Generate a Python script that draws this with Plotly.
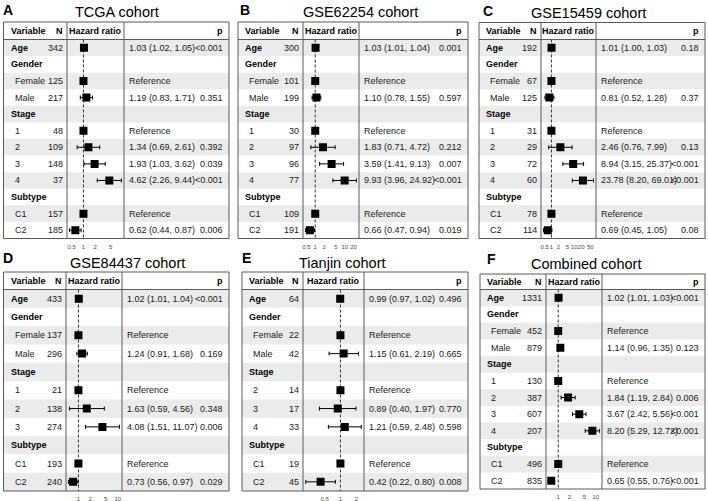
import math
import plotly.graph_objects as go

W, H = 708, 501
GROUPS = {"Age", "Gender", "Stage", "Subtype"}

# ---------------- data ----------------
TITLES = ["TCGA cohort", "GSE62254 cohort", "GSE15459 cohort",
          "GSE84437 cohort", "Tianjin cohort", "Combined cohort"]
LETTERS = ["A", "B", "C", "D", "E", "F"]

TCGA_VARS = ["Age", "Gender", "Female", "Male", "Stage", "1", "2", "3", "4", "Subtype", "C1", "C2"]
TCGA_N = [342, None, 125, 217, None, 48, 109, 148, 37, None, 157, 185]
TCGA_HR = [1.03, None, 1, 1.19, None, 1, 1.34, 1.93, 4.62, None, 1, 0.62]
TCGA_LO = [1.02, None, None, 0.83, None, None, 0.69, 1.03, 2.26, None, None, 0.44]
TCGA_HI = [1.05, None, None, 1.71, None, None, 2.61, 3.62, 9.44, None, None, 0.87]
TCGA_P = ["<0.001", "", "", "0.351", "", "", "0.392", "0.039", "<0.001", "", "", "0.006"]
TCGA_TICKS = [0.5, 1, 2, 5]

G62_VARS = ["Age", "Gender", "Female", "Male", "Stage", "1", "2", "3", "4", "Subtype", "C1", "C2"]
G62_N = [300, None, 101, 199, None, 30, 97, 96, 77, None, 109, 191]
G62_HR = [1.03, None, 1, 1.10, None, 1, 1.83, 3.59, 9.93, None, 1, 0.66]
G62_LO = [1.01, None, None, 0.78, None, None, 0.71, 1.41, 3.96, None, None, 0.47]
G62_HI = [1.04, None, None, 1.55, None, None, 4.72, 9.13, 24.92, None, None, 0.94]
G62_P = ["0.001", "", "", "0.597", "", "", "0.212", "0.007", "<0.001", "", "", "0.019"]
G62_TICKS = [0.5, 1, 2, 5, 10, 20]

G15_VARS = ["Age", "Gender", "Female", "Male", "Stage", "1", "2", "3", "4", "Subtype", "C1", "C2"]
G15_N = [192, None, 67, 125, None, 31, 29, 72, 60, None, 78, 114]
G15_HR = [1.01, None, 1, 0.81, None, 1, 2.46, 8.94, 23.78, None, 1, 0.69]
G15_LO = [1.00, None, None, 0.52, None, None, 0.76, 3.15, 8.20, None, None, 0.45]
G15_HI = [1.03, None, None, 1.28, None, None, 7.99, 25.37, 69.01, None, None, 1.05]
G15_P = ["0.18", "", "", "0.37", "", "", "0.13", "<0.001", "<0.001", "", "", "0.08"]
G15_TICKS = [0.5, 1, 2, 5, 10, 20, 50]

G84_VARS = ["Age", "Gender", "Female", "Male", "Stage", "1", "2", "3", "Subtype", "C1", "C2"]
G84_N = [433, None, 137, 296, None, 21, 138, 274, None, 193, 240]
G84_HR = [1.02, None, 1, 1.24, None, 1, 1.63, 4.08, None, 1, 0.73]
G84_LO = [1.01, None, None, 0.91, None, None, 0.59, 1.51, None, None, 0.56]
G84_HI = [1.04, None, None, 1.68, None, None, 4.56, 11.07, None, None, 0.97]
G84_P = ["<0.001", "", "", "0.169", "", "", "0.348", "0.006", "", "", "0.029"]
G84_TICKS = [1, 2, 5, 10]

TJ_VARS = ["Age", "Gender", "Female", "Male", "Stage", "2", "3", "4", "Subtype", "C1", "C2"]
TJ_N = [64, None, 22, 42, None, 14, 17, 33, None, 19, 45]
TJ_HR = [0.99, None, 1, 1.15, None, 1, 0.89, 1.21, None, 1, 0.42]
TJ_LO = [0.97, None, None, 0.61, None, None, 0.40, 0.59, None, None, 0.22]
TJ_HI = [1.02, None, None, 2.19, None, None, 1.97, 2.48, None, None, 0.80]
TJ_P = ["0.496", "", "", "0.665", "", "", "0.770", "0.598", "", "", "0.008"]
TJ_TICKS = [0.5, 1, 2]

CB_VARS = ["Age", "Gender", "Female", "Male", "Stage", "1", "2", "3", "4", "Subtype", "C1", "C2"]
CB_N = [1331, None, 452, 879, None, 130, 387, 607, 207, None, 496, 835]
CB_HR = [1.02, None, 1, 1.14, None, 1, 1.84, 3.67, 8.20, None, 1, 0.65]
CB_LO = [1.01, None, None, 0.96, None, None, 1.19, 2.42, 5.29, None, None, 0.55]
CB_HI = [1.03, None, None, 1.35, None, None, 2.84, 5.56, 12.72, None, None, 0.76]
CB_P = ["<0.001", "", "", "0.123", "", "", "0.006", "<0.001", "<0.001", "", "", "<0.001"]
CB_TICKS = [1, 2, 5, 10]

DATA = [
    (TCGA_VARS, TCGA_N, TCGA_HR, TCGA_LO, TCGA_HI, TCGA_P, TCGA_TICKS),
    (G62_VARS, G62_N, G62_HR, G62_LO, G62_HI, G62_P, G62_TICKS),
    (G15_VARS, G15_N, G15_HR, G15_LO, G15_HI, G15_P, G15_TICKS),
    (G84_VARS, G84_N, G84_HR, G84_LO, G84_HI, G84_P, G84_TICKS),
    (TJ_VARS, TJ_N, TJ_HR, TJ_LO, TJ_HI, TJ_P, TJ_TICKS),
    (CB_VARS, CB_N, CB_HR, CB_LO, CB_HI, CB_P, CB_TICKS),
]

# ---------------- layout (pixels) ----------------
GEOM = [
    dict(L=3.5, c1=67, c2=124, R=229, top=22, hb=39.5, bot=238.5, tx=117, ty=12, lx=8, ly=10),
    dict(L=238, c1=303, c2=359, R=468, top=22, hb=39.5, bot=238.5, tx=360, ty=12, lx=245, ly=10),
    dict(L=479, c1=541, c2=596, R=705, top=22.5, hb=39.5, bot=238.5, tx=588, ty=13, lx=488, ly=11),
    dict(L=3.5, c1=66, c2=122, R=229, top=272, hb=289.5, bot=491, tx=127, ty=263, lx=8, ly=258),
    dict(L=242, c1=303, c2=364, R=468, top=272, hb=289.5, bot=491, tx=342, ty=263, lx=246, ly=258),
    dict(L=480, c1=546, c2=602, R=705, top=274, hb=289.5, bot=489, tx=586, ty=264, lx=491, ly=259),
]

FONT = "Liberation Sans, Arial, Helvetica, sans-serif"
TXT = "#1a1a1a"
LINE = "#5a5a5a"
STRIPE = "#ebebeb"
FS = 9


def px(x):
    return x / W


def py(y):
    return 1 - y / H


fig = go.Figure()
shapes = []
annotations = []
layout_axes = {}

for k, ((vars_, ns, hrs, los, his, ps, ticks), g) in enumerate(zip(DATA, GEOM), start=1):
    n = len(vars_)
    xa = "x" if k == 1 else f"x{k}"
    ya = "y" if k == 1 else f"y{k}"
    xname = "xaxis" if k == 1 else f"xaxis{k}"
    yname = "yaxis" if k == 1 else f"yaxis{k}"

    vals = [v for v in los + his + hrs if v is not None]
    lmin, lmax = math.log10(min(vals)), math.log10(max(vals))
    span = lmax - lmin
    xr = [lmin - 0.05 * span, lmax + 0.05 * span]

    layout_axes[xname] = dict(
        type="log", domain=[px(g["c1"]), px(g["c2"])], range=xr, anchor=ya,
        showgrid=False, zeroline=False, showline=False, ticks="", tickangle=0,
        tickvals=ticks, ticktext=[("%g" % t) for t in ticks],
        tickfont=dict(size=6, color="#4d4d4d", family=FONT), ticklabelstandoff=3,
        fixedrange=True,
    )
    layout_axes[yname] = dict(
        domain=[py(g["bot"]), py(g["hb"])], range=[n - 0.5, -0.5], anchor=xa,
        visible=False, fixedrange=True,
    )

    for i in range(0, n, 2):
        shapes.append(dict(type="rect", xref="paper", yref=ya, x0=px(g["L"]), x1=px(g["R"]),
                           y0=i - 0.5, y1=i + 0.5, fillcolor=STRIPE, line=dict(width=0),
                           layer="below"))
    shapes.append(dict(type="rect", xref="paper", yref="paper", x0=px(g["L"]), x1=px(g["R"]),
                       y0=py(g["bot"]), y1=py(g["top"]), line=dict(color=LINE, width=1)))
    for c in ("c1", "c2"):
        shapes.append(dict(type="line", xref="paper", yref="paper", x0=px(g[c]), x1=px(g[c]),
                           y0=py(g["bot"]), y1=py(g["top"]), line=dict(color=LINE, width=1)))
    shapes.append(dict(type="line", xref="paper", yref="paper", x0=px(g["L"]), x1=px(g["R"]),
                       y0=py(g["hb"]), y1=py(g["hb"]), line=dict(color=LINE, width=1)))

    fig.add_trace(go.Scatter(x=[1, 1], y=[-0.5, n - 0.5], mode="lines", xaxis=xa, yaxis=ya,
                             line=dict(color="#333333", width=1, dash="3px,2px"),
                             hoverinfo="skip", showlegend=False))

    xs, ys, ep, em = [], [], [], []
    for i, (hr, lo, hi) in enumerate(zip(hrs, los, his)):
        if hr is None:
            continue
        xs.append(hr)
        ys.append(i)
        ep.append((hi - hr) if hi is not None else 0)
        em.append((hr - lo) if lo is not None else 0)
    fig.add_trace(go.Scatter(
        x=xs, y=ys, mode="markers", xaxis=xa, yaxis=ya, showlegend=False,
        marker=dict(symbol="square", size=8, color="black", line=dict(width=0)),
        error_x=dict(type="data", symmetric=False, array=ep, arrayminus=em,
                     thickness=1, width=2, color="black"),
    ))

    hy = py((g["top"] + g["hb"]) / 2)
    hfont = dict(family=FONT, size=FS, color="black")
    annotations += [
        dict(x=px(g["L"] + 5), y=hy, xref="paper", yref="paper", text="<b>Variable</b>",
             xanchor="left", yanchor="middle", showarrow=False, font=hfont),
        dict(x=px(g["c1"] - 2.5), y=hy, xref="paper", yref="paper", text="<b>N</b>",
             xanchor="right", yanchor="middle", showarrow=False, font=hfont),
        dict(x=px((g["c1"] + g["c2"]) / 2), y=hy, xref="paper", yref="paper",
             text="<b>Hazard ratio</b>", xanchor="center", yanchor="middle",
             showarrow=False, font=hfont),
        dict(x=px(g["R"] - 4), y=hy, xref="paper", yref="paper", text="<b>p</b>",
             xanchor="right", yanchor="middle", showarrow=False, font=hfont),
    ]
    annotations.append(dict(x=px(g["tx"]), y=py(g["ty"]), xref="paper", yref="paper",
                            text=TITLES[k - 1], xanchor="center", yanchor="middle",
                            showarrow=False, font=dict(family=FONT, size=14.5, color="black")))
    annotations.append(dict(x=px(g["lx"]), y=py(g["ly"]), xref="paper", yref="paper",
                            text="<b>%s</b>" % LETTERS[k - 1], xanchor="center", yanchor="middle",
                            showarrow=False, font=dict(family=FONT, size=14, color="black")))

    bfont = dict(family=FONT, size=FS, color=TXT)
    for i, (v, nn, hr, lo, hi, p) in enumerate(zip(vars_, ns, hrs, los, his, ps)):
        grp = v in GROUPS
        annotations.append(dict(
            x=px(g["L"] + (5 if grp else 9)), y=i, xref="paper", yref=ya,
            text=("<b>%s</b>" % v) if grp else v, xanchor="left", yanchor="middle",
            showarrow=False, font=dict(family=FONT, size=FS, color="black" if grp else TXT)))
        if nn is not None:
            annotations.append(dict(x=px(g["c1"] - 2.5), y=i, xref="paper", yref=ya,
                                    text=str(nn), xanchor="right", yanchor="middle",
                                    showarrow=False, font=bfont))
        if hr is not None:
            est = "Reference" if lo is None else "%.2f (%.2f, %.2f)" % (hr, lo, hi)
            annotations.append(dict(x=px(g["c2"] + 2.5), y=i, xref="paper", yref=ya,
                                    text=est, xanchor="left", yanchor="middle",
                                    showarrow=False, font=bfont))
        if p:
            annotations.append(dict(x=px(g["R"] - 4), y=i, xref="paper", yref=ya,
                                    text=p, xanchor="right", yanchor="middle",
                                    showarrow=False, font=bfont))

fig.update_layout(
    width=W, height=H, margin=dict(l=0, r=0, t=0, b=0),
    paper_bgcolor="white", plot_bgcolor="rgba(0,0,0,0)",
    shapes=shapes, annotations=annotations, showlegend=False,
    font=dict(family=FONT, size=FS, color=TXT),
    **layout_axes,
)

fig.write_html(
    "out.html",
    config={"displayModeBar": False},
    post_script="document.body.style.margin='0px';document.body.style.overflow='hidden';",
)
